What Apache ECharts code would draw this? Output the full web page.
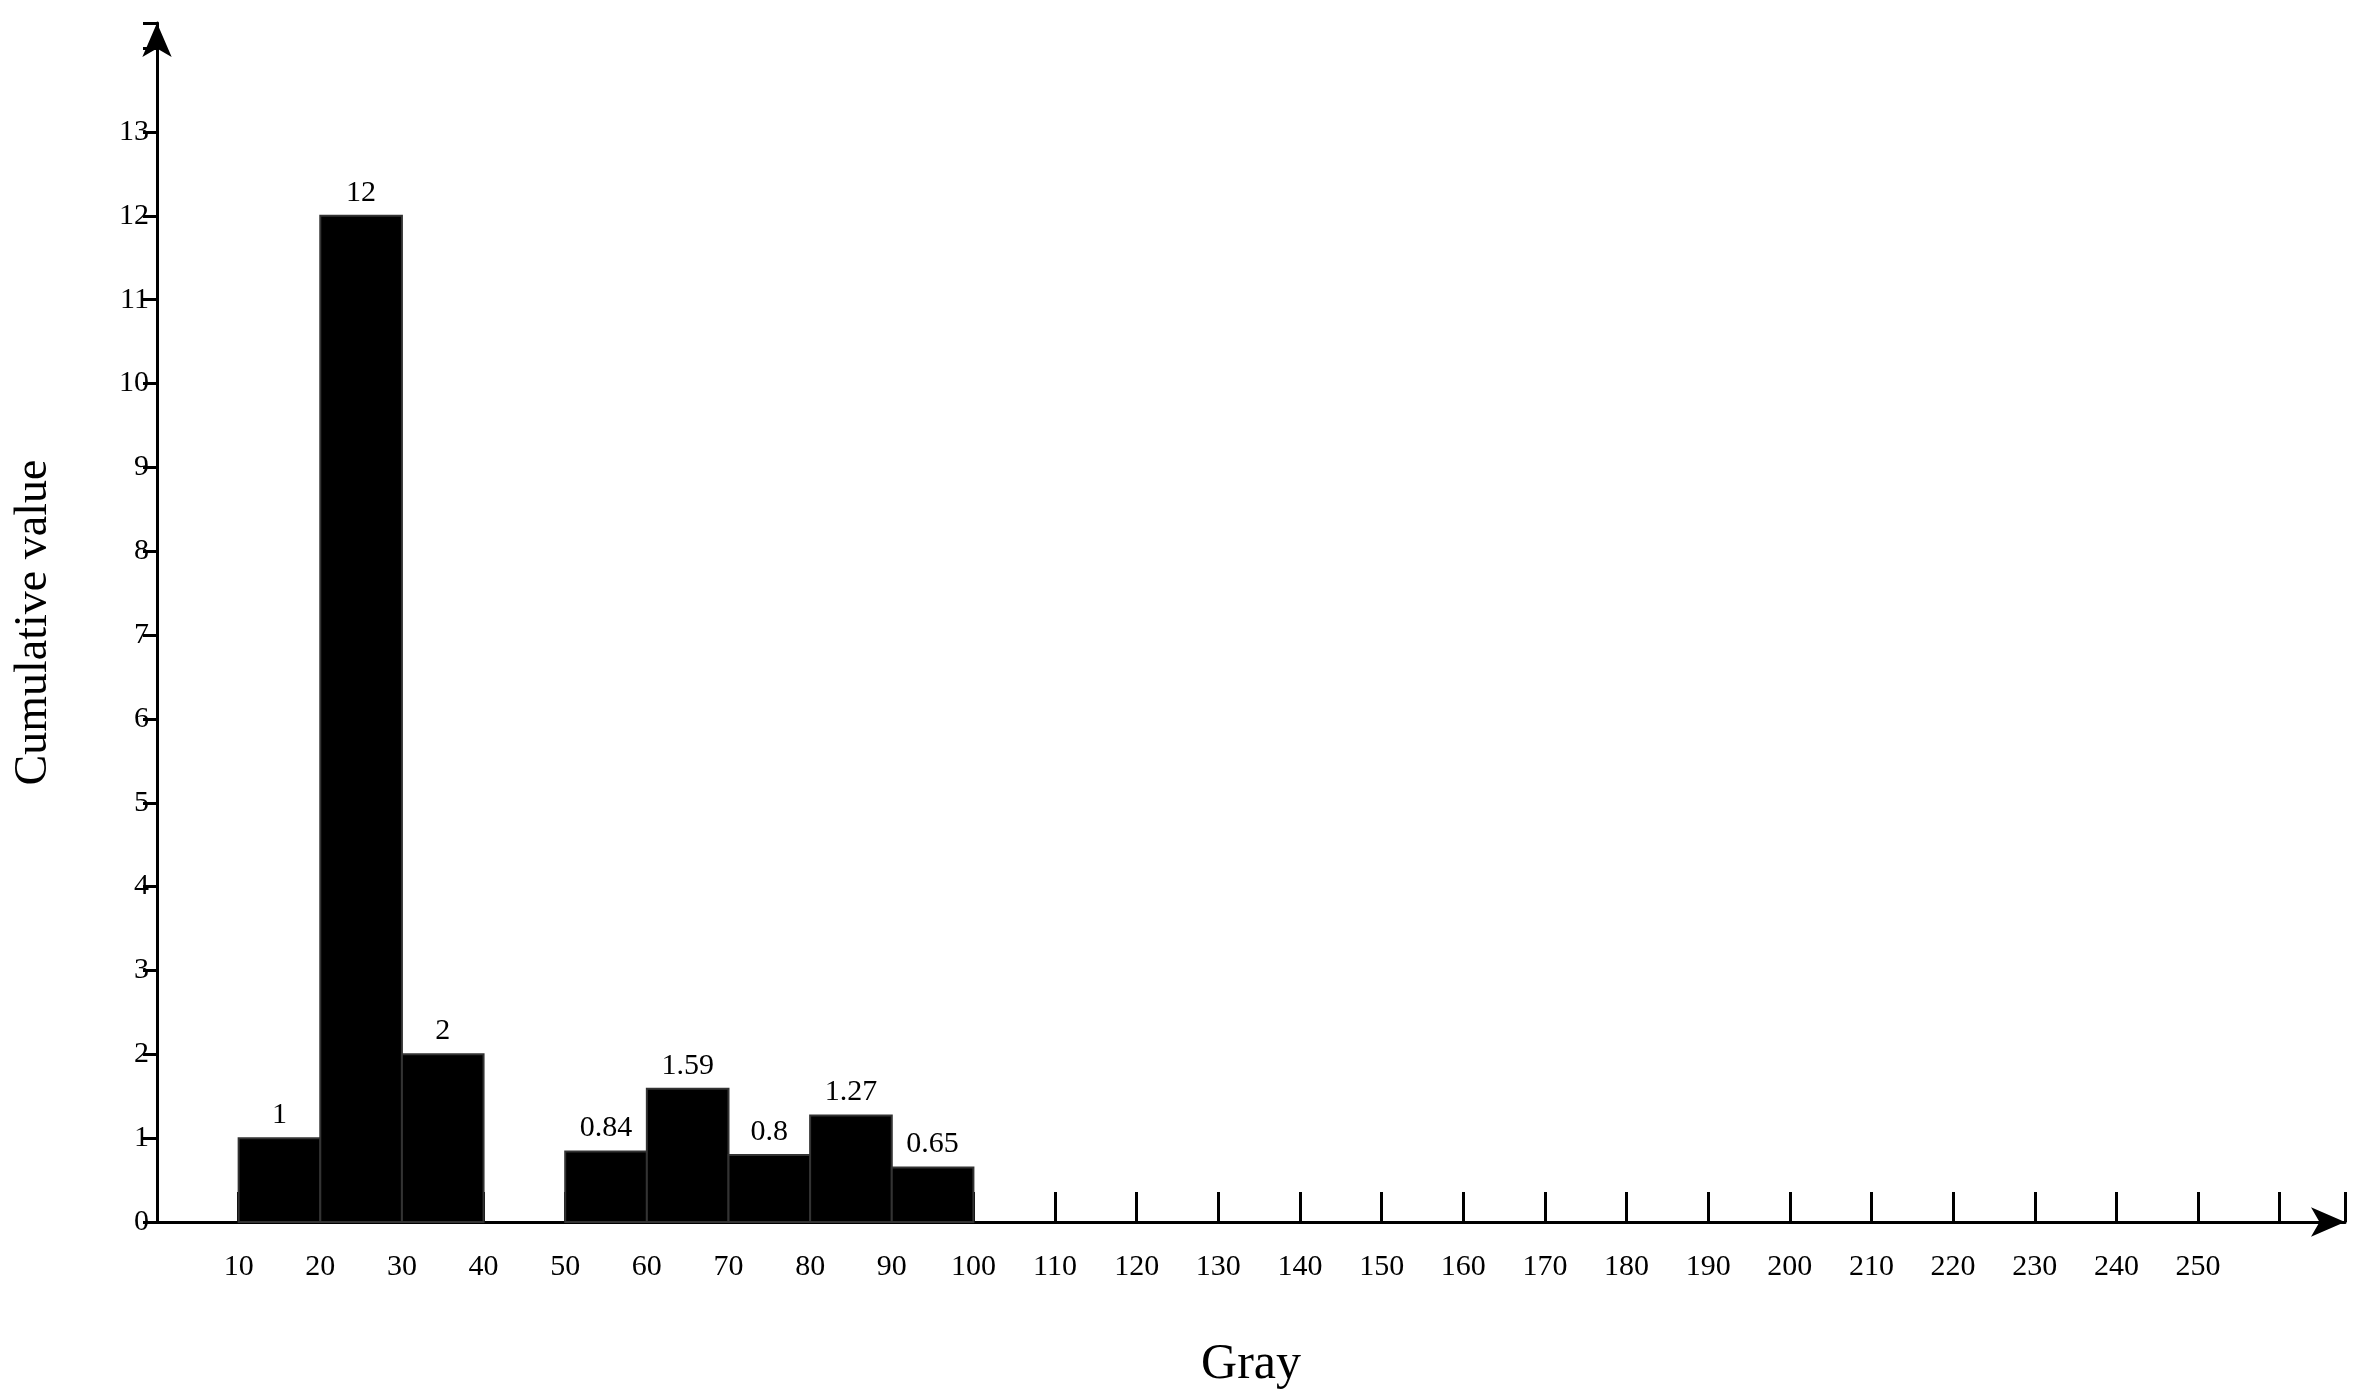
<!DOCTYPE html>
<html>
<head>
<meta charset="utf-8">
<script src="https://cdn.jsdelivr.net/npm/echarts@6/dist/echarts.min.js"></script>
<style>html,body{margin:0;padding:0;background:#fff}#main{width:2353px;height:1395px}</style>
</head>
<body>
<div id="main"></div>
<script>
// bins: [start, end, value]
var binStart = [10, 20, 30, 50, 60, 70, 80, 90];
var binEnd = [20, 30, 40, 60, 70, 80, 90, 100];
var values = [1, 12, 2, 0.84, 1.59, 0.8, 1.27, 0.65];

var data = binStart.map(function (s, i) { return [s, binEnd[i], values[i]]; });
var font = 'Liberation Serif';

var chart = echarts.init(document.getElementById('main'));
chart.setOption({
    animation: false,
    textStyle: { fontFamily: font, color: '#000' },
    grid: { left: 157, right: 8, top: 23, bottom: 158 },
    xAxis: {
        type: 'value', min: 0, max: 268, interval: 10,
        name: 'Gray', nameLocation: 'middle', nameGap: 118,
        nameTextStyle: { fontSize: 50, color: '#000', fontFamily: font },
        axisLine: { lineStyle: { color: '#000', width: 3 }, symbol: ['none', 'arrow'], symbolSize: [22, 34] },
        axisTick: { inside: true, length: 30, lineStyle: { color: '#000', width: 3 } },
        axisLabel: {
            fontSize: 30, color: '#000', margin: 30,
            formatter: function (v) { return (v > 0 && v <= 250) ? v : ''; }
        },
        splitLine: { show: false }
    },
    yAxis: {
        type: 'value', min: 0, max: 14.3, interval: 1,
        name: 'Cumulative value', nameLocation: 'middle', nameGap: 100,
        nameTextStyle: { fontSize: 46, color: '#000', fontFamily: font },
        axisLine: { show: true, lineStyle: { color: '#000', width: 3 }, symbol: ['none', 'arrow'], symbolSize: [22, 34] },
        axisTick: { show: true, length: 14, lineStyle: { color: '#000', width: 3 } },
        axisLabel: {
            fontSize: 30, color: '#000', margin: 8,
            formatter: function (v) { return v <= 13 ? v : ''; }
        },
        splitLine: { show: false }
    },
    series: [{
        type: 'custom',
        data: data,
        encode: { x: [0, 1], y: 2 },
        renderItem: function (params, api) {
            var p0 = api.coord([api.value(0), 0]);
            var p1 = api.coord([api.value(1), api.value(2)]);
            return {
                type: 'group',
                children: [{
                    type: 'rect',
                    shape: { x: p0[0], y: p1[1], width: p1[0] - p0[0], height: p0[1] - p1[1] },
                    style: { fill: '#000', stroke: '#333', lineWidth: 2 }
                }, {
                    type: 'text',
                    style: {
                        text: String(api.value(2)), x: (p0[0] + p1[0]) / 2, y: p1[1] - 8,
                        align: 'center', verticalAlign: 'bottom',
                        font: '30px "' + font + '"', fill: '#000'
                    }
                }]
            };
        }
    }]
});
</script>
</body>
</html>
